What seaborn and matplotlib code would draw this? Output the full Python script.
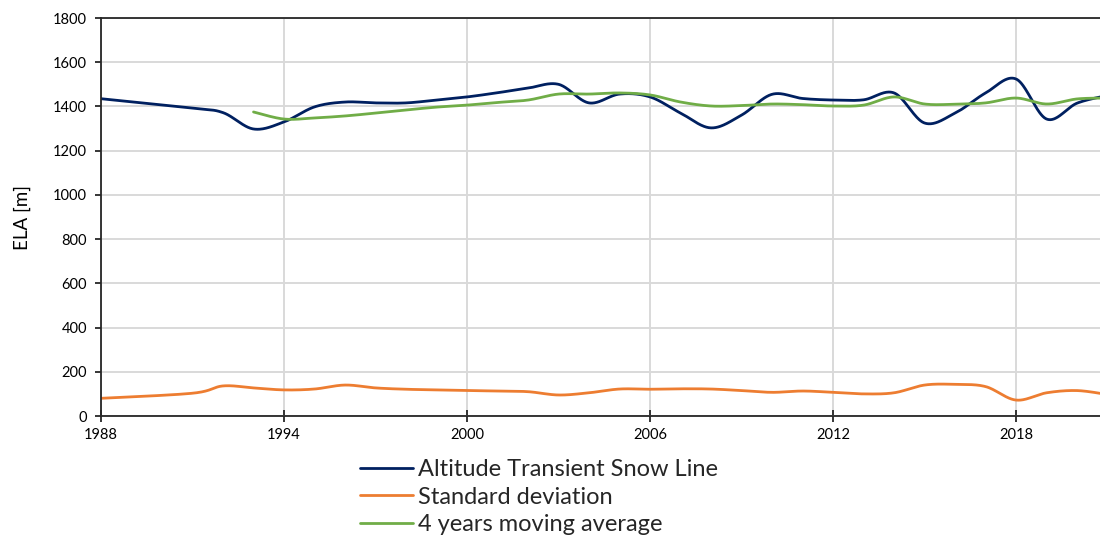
import numpy as np
import pandas as pd
import matplotlib
matplotlib.use("Agg")
import matplotlib.pyplot as plt
import seaborn as sns

# Equilibrium line altitude series (m a.s.l.)
years_snow = [1988, 1991, 1992, 1993, 1994, 1995, 1996, 1997, 1998, 1999, 2000,
              2001, 2002, 2003, 2004, 2005, 2006, 2007, 2008, 2009, 2010, 2011,
              2012, 2013, 2014, 2015, 2016, 2017, 2018, 2019, 2020, 2021]
snow_line = [1435, 1392, 1372, 1298, 1330, 1398, 1420, 1416, 1416, 1429, 1443,
             1462, 1483, 1500, 1416, 1456, 1443, 1370, 1303, 1361, 1455, 1436,
             1429, 1430, 1461, 1325, 1370, 1461, 1524, 1343, 1415, 1450]

years_std = years_snow
std_dev = [80, 103, 136, 127, 118, 122, 140, 127, 121, 118, 115,
           113, 110, 95, 105, 122, 121, 123, 122, 115, 107, 113,
           107, 100, 105, 140, 143, 133, 72, 105, 115, 97]

years_avg = [1993, 1994, 1995, 1996, 1997, 1998, 1999, 2000, 2001, 2002, 2003,
             2004, 2005, 2006, 2007, 2008, 2009, 2010, 2011, 2012, 2013, 2014,
             2015, 2016, 2017, 2018, 2019, 2020, 2021]
moving_avg = [1375, 1343, 1348, 1357, 1370, 1384, 1397, 1406, 1418, 1429, 1456,
              1456, 1461, 1452, 1420, 1402, 1404, 1411, 1408, 1402, 1406, 1443,
              1411, 1410, 1416, 1438, 1411, 1434, 1438]

labels = ["Altitude Transient Snow Line", "Standard deviation",
          "4 years moving average"]
colors = ["#002060", "#ED7D31", "#70AD47"]
x_ticks = [1988, 1994, 2000, 2006, 2012, 2018]


def smooth(xs, ys, n=40):
    """Spreadsheet-style smoothed line: cubic Bezier through every point."""
    p = np.column_stack([xs, ys]).astype(float)
    p = np.vstack([p[0], p, p[-1]])
    out = []
    t = np.linspace(0, 1, n)[:, None]
    for i in range(1, len(p) - 2):
        p0, p1, p2, p3 = p[i - 1], p[i], p[i + 1], p[i + 2]
        c1 = p1 + (p2 - p0) / 6.0
        c2 = p2 - (p3 - p1) / 6.0
        seg = ((1 - t) ** 3) * p1 + 3 * ((1 - t) ** 2) * t * c1 \
            + 3 * (1 - t) * t ** 2 * c2 + t ** 3 * p2
        out.append(seg if i == 1 else seg[1:])
    out = np.vstack(out)
    return out[:, 0], out[:, 1]


frames = []
for name, xs, ys in zip(labels, [years_snow, years_std, years_avg],
                        [snow_line, std_dev, moving_avg]):
    sx, sy = smooth(xs, ys)
    frames.append(pd.DataFrame({"Year": sx, "ELA": sy, "Series": name}))
df = pd.concat(frames, ignore_index=True)

sns.set_theme(style="white")
plt.rcParams["font.family"] = ["Lato", "DejaVu Sans"]

fig = plt.figure(figsize=(11, 5.4), dpi=100)
ax = fig.add_axes([101 / 1100, 1 - 416 / 540, 999 / 1100, 398 / 540])

sns.lineplot(data=df, x="Year", y="ELA", hue="Series", hue_order=labels,
             palette=colors, estimator=None, sort=False,
             linewidth=2.0, ax=ax, legend=False)

ax.set_xlim(1988, 2020.75)
ax.set_ylim(0, 1800)
ax.set_xticks(x_ticks)
ax.set_yticks(np.arange(0, 1801, 200))
ax.grid(True, color="#d9d9d9", linewidth=1.4)
ax.set_axisbelow(True)

for side in ["left", "bottom", "top"]:
    ax.spines[side].set_visible(True)
    ax.spines[side].set_color("#262626")
    ax.spines[side].set_linewidth(1.3)
ax.spines["right"].set_visible(False)

ax.tick_params(axis="x", direction="inout", length=9, width=1.3,
               color="#262626", labelsize=10.5, labelcolor="#000000", pad=4,
               bottom=True)
ax.tick_params(axis="y", direction="out", length=4, width=1.3,
               color="#262626", labelsize=10.5, labelcolor="#000000", pad=6,
               left=True)
ax.set_xlabel("")
ax.set_ylabel("ELA [m]", fontsize=13.5, color="#000000", labelpad=16)

handles = [plt.Line2D([], [], color=c, linewidth=2.0) for c in colors]
fig.legend(handles, labels, loc="upper left",
           bbox_to_anchor=(360 / 1100, 1 - 459 / 540),
           frameon=False, fontsize=17, handlelength=2.25, handletextpad=0.2,
           labelspacing=0.28, borderaxespad=0, borderpad=0)

fig.savefig("out.png", dpi=100)
